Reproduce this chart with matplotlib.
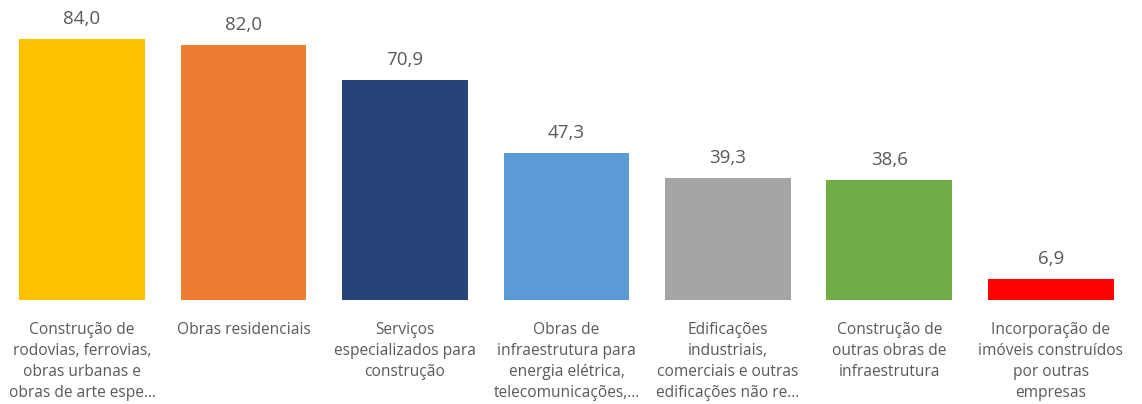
import matplotlib
matplotlib.use("Agg")
import matplotlib.pyplot as plt

categories = [
    "Construção de\nrodovias, ferrovias,\nobras urbanas e\nobras de arte espe...",
    "Obras residenciais",
    "Serviços\nespecializados para\nconstrução",
    "Obras de\ninfraestrutura para\nenergia elétrica,\ntelecomunicações,...",
    "Edificações\nindustriais,\ncomerciais e outras\nedificações não re...",
    "Construção de\noutras obras de\ninfraestrutura",
    "Incorporação de\nimóveis construídos\npor outras\nempresas",
]
values = [84.0, 82.0, 70.9, 47.3, 39.3, 38.6, 6.9]
colors = ["#FFC000", "#ED7D31", "#264478", "#5B9BD5", "#A5A5A5", "#70AD47", "#FF0000"]

plt.rcParams['font.family'] = ['Open Sans', 'DejaVu Sans']
text_color = "#595959"

fig = plt.figure(figsize=(11.42, 4.04), dpi=100)
ax = fig.add_axes([0, 104/404, 1, 300/404])
x = list(range(len(values)))
ax.bar(x, values, width=0.78, color=colors)
ax.set_xlim(-0.508, 6.564)
ax.set_ylim(0, 96.55)
ax.axis("off")

for xi, v in zip(x, values):
    ax.annotate(f"{v:.1f}".replace(".", ","), (xi, v), xytext=(0, 11),
                textcoords="offset pixels", ha="center", va="bottom",
                fontsize=13.5, color=text_color)

for xi, lab in zip(x, categories):
    ax.annotate(lab, (xi, 0), xytext=(0, -22), textcoords="offset pixels",
                ha="center", va="top", fontsize=11.2, color=text_color,
                linespacing=1.42, annotation_clip=False)

fig.savefig("out.png", dpi=100)
